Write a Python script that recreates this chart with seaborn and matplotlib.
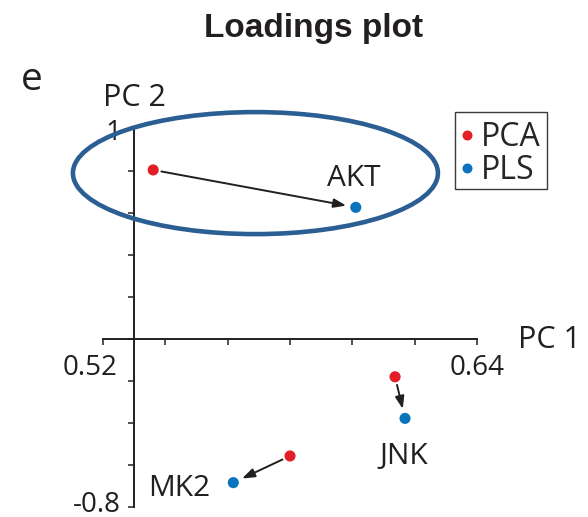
import numpy as np
import pandas as pd
import matplotlib
matplotlib.use("Agg")
import matplotlib.pyplot as plt
from matplotlib.patches import Ellipse, Rectangle
from matplotlib.transforms import ScaledTranslation
import seaborn as sns

# Loadings of three kinases on the first two components
proteins = ["AKT", "JNK", "MK2"]
pca_pc1 = [0.5361, 0.6137, 0.5800]
pca_pc2 = [0.805, -0.180, -0.557]
pls_pc1 = [0.6011, 0.6169, 0.5618]
pls_pc2 = [0.627, -0.378, -0.684]
methods = ["PCA", "PLS"]
method_colors = ["#e31e26", "#0a73bb"]

x_ticks = [0.52, 0.54, 0.56, 0.58, 0.60, 0.62, 0.64]
x_tick_labels = ["0.52", "", "", "", "", "", "0.64"]
y_ticks = [-0.8, -0.6, -0.4, -0.2, 0.0, 0.2, 0.4, 0.6, 0.8, 1.0]
y_tick_labels = ["-0.8", "", "", "", "", "", "", "", "", "1"]
y_axis_at = 0.53

# Highlighted region around the AKT loadings
region_center = (0.5689, 0.790)
region_size = (0.1171, 0.581)

df = pd.DataFrame({
    "protein": proteins * 2,
    "method": [methods[0]] * 3 + [methods[1]] * 3,
    "PC 1": pca_pc1 + pls_pc1,
    "PC 2": pca_pc2 + pls_pc2,
})

sns.set_style("ticks")
plt.rcParams["font.family"] = ["Open Sans", "DejaVu Sans"]
ink = "#231f20"

W, H = 588, 517
fig = plt.figure(figsize=(W / 100, H / 100), dpi=100)
ax = fig.add_axes([0, 0, 1, 1])
ax.set_facecolor("none")

# pixel layout of the axes frame
x0_px, xs = 103, 3117.0
y0_px, ys = 339, 210.0
ax.set_xlim(0.52 - x0_px / xs, 0.52 + (W - x0_px) / xs)
ax.set_ylim((y0_px - H) / ys, y0_px / ys)

sns.scatterplot(data=df, x="PC 1", y="PC 2", hue="method", hue_order=methods,
                palette=dict(zip(methods, method_colors)), s=64,
                edgecolor="none", linewidth=0, ax=ax, zorder=5)

for name, ax_, ay_, bx_, by_ in zip(proteins, pca_pc1, pca_pc2, pls_pc1, pls_pc2):
    ax.annotate("", xy=(bx_, by_), xytext=(ax_, ay_),
                arrowprops=dict(arrowstyle="-|>,head_length=0.5,head_width=0.18",
                                color=ink, lw=1.4, shrinkA=6, shrinkB=7,
                                mutation_scale=15), zorder=4)

label_offsets = {"AKT": ((-1.2, 15.3), "center"),
                 "JNK": ((-0.7, -32.9), "center"),
                 "MK2": ((-16.8, -9.4), "right")}
for name, bx_, by_ in zip(proteins, pls_pc1, pls_pc2):
    off, ha = label_offsets[name]
    ax.annotate(name, xy=(bx_, by_), xytext=off, textcoords="offset points",
                ha=ha, va="baseline", fontsize=21.5, color=ink)

ax.add_patch(Ellipse(region_center, region_size[0], region_size[1], fill=False,
                     ec="#2b5e93", lw=3.3, zorder=3))

for s in ["top", "right"]:
    ax.spines[s].set_visible(False)
ax.spines["left"].set_position(("data", y_axis_at))
ax.spines["left"].set_bounds(y_ticks[0], y_ticks[-1])
ax.spines["bottom"].set_position(("data", 0))
ax.spines["bottom"].set_bounds(x_ticks[0], x_ticks[-1])
for s in ["left", "bottom"]:
    ax.spines[s].set_linewidth(1.4)
    ax.spines[s].set_color(ink)

ax.set_xticks(x_ticks, x_tick_labels)
ax.set_yticks(y_ticks, y_tick_labels)
ax.set_xlabel("")
ax.set_ylabel("")
ax.tick_params(axis="both", direction="out", length=4.5, width=1.1, color=ink,
               labelsize=20, labelcolor=ink)
ax.tick_params(axis="x", pad=6)
ax.tick_params(axis="y", pad=5)
lbl = ax.get_xticklabels()[0]
lbl.set_transform(lbl.get_transform() + ScaledTranslation(-0.13, 0, fig.dpi_scale_trans))
lbl = ax.get_yticklabels()[0]
lbl.set_transform(lbl.get_transform() + ScaledTranslation(0, 0.06, fig.dpi_scale_trans))

fig.text(518 / W, 1 - 348 / H, "PC 1", ha="left", va="baseline", fontsize=22, color=ink)
fig.text(134 / W, 1 - 106 / H, "PC 2", ha="center", va="baseline", fontsize=22, color=ink)
fig.text(32 / W, 1 - 90 / H, "e", ha="center", va="baseline", fontsize=28, color=ink)
fig.text(314 / W, 1 - 37 / H, "Loadings plot", ha="center", va="baseline",
         fontsize=24, fontweight="bold", family=["Liberation Sans", "DejaVu Sans"],
         color=ink)

handles, labels = ax.get_legend_handles_labels()
ax.legend(handles, labels, loc="upper left", bbox_to_anchor=(460.5 / W, 1 - 121 / H),
          bbox_transform=fig.transFigure, frameon=False, fontsize=23, borderpad=0,
          handletextpad=0.22, handlelength=0.43, labelspacing=0.0,
          borderaxespad=0, markerscale=0.9)
fig.add_artist(Rectangle((455 / W, 1 - 189 / H), 92 / W, 77 / H,
                         transform=fig.transFigure, fill=False,
                         ec="#3a3a3a", lw=1.0))

fig.savefig("out.png", dpi=100)
